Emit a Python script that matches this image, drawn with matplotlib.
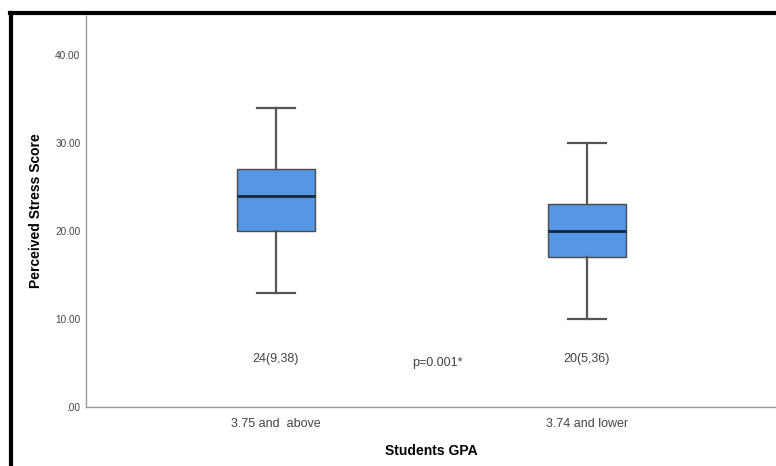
'''
boxplot of perceived stress score by GPA group
'''
import matplotlib
matplotlib.use('Agg')
import matplotlib.pyplot as plt
from matplotlib.lines import Line2D
from matplotlib.ticker import FuncFormatter

plt.rcParams['font.family'] = ['Liberation Sans', 'DejaVu Sans']

groups = ['3.75 and  above', '3.74 and lower']
medians = [24, 20]
q1 = [20, 17]
q3 = [27, 23]
whis_lo = [13, 10]
whis_hi = [34, 30]
summary = ['24(9,38)', '20(5,36)']
p_text = 'p=0.001*'

fig = plt.figure(figsize=(7.76, 4.66), dpi=100)
W, H = 776, 466
ax = fig.add_axes([86 / W, 1 - 407 / H, 1 - 86 / W, (407 - 16) / H])

stats = [dict(med=m, q1=a, q3=b, whislo=lo, whishi=hi, label=g)
         for g, m, a, b, lo, hi in zip(groups, medians, q1, q3, whis_lo, whis_hi)]
ax.bxp(stats, positions=[0, 1], widths=0.25, showfliers=False, patch_artist=True,
       boxprops=dict(facecolor='#5596e5', edgecolor='#4a4a4a', linewidth=1),
       medianprops=dict(color='#16253a', linewidth=2),
       whiskerprops=dict(color='#555555', linewidth=1.6),
       capprops=dict(color='#555555', linewidth=1.6),
       capwidths=0.122)

# median (min,max) under each box and the test result between them
for x, s in zip([0, 1], summary):
    ax.text(x, 5.4, s, ha='center', va='center', fontsize=9, color='#444444')
ax.text(0.518, 5.0, p_text, ha='center', va='center', fontsize=9, color='#444444')

ax.set_xlim(-0.611, 1.608)
ax.set_ylim(0, 44.4)
ax.set_yticks([0, 10, 20, 30, 40])
ax.yaxis.set_major_formatter(FuncFormatter(lambda v, _: ('%.2f' % v).lstrip('0') if v == 0 else '%.2f' % v))
ax.set_xticks([0, 1])
ax.set_xticklabels(groups)
ax.tick_params(axis='y', length=0, pad=4, labelsize=7.2, labelcolor='#444444')
ax.tick_params(axis='x', length=0, pad=8, labelsize=9, labelcolor='#444444')

for side in ['top', 'right']:
    ax.spines[side].set_visible(False)
for side in ['left', 'bottom']:
    ax.spines[side].set_color('#999999')
    ax.spines[side].set_linewidth(1)

ax.set_xlabel('Students GPA', fontsize=10, fontweight='bold', labelpad=10)
fig.text(36 / W, 1 - 211 / H, 'Perceived Stress Score', rotation=90, ha='center', va='center',
         fontsize=10, fontweight='bold')

# heavy frame round the chart
fig.add_artist(Line2D([10 / W, 1], [1 - 13 / H] * 2, color='black', linewidth=3,
                      solid_capstyle='projecting', transform=fig.transFigure))
fig.add_artist(Line2D([11 / W] * 2, [0, 1 - 13 / H], color='black', linewidth=3,
                      solid_capstyle='projecting', transform=fig.transFigure))

fig.savefig('out.png', dpi=100)
